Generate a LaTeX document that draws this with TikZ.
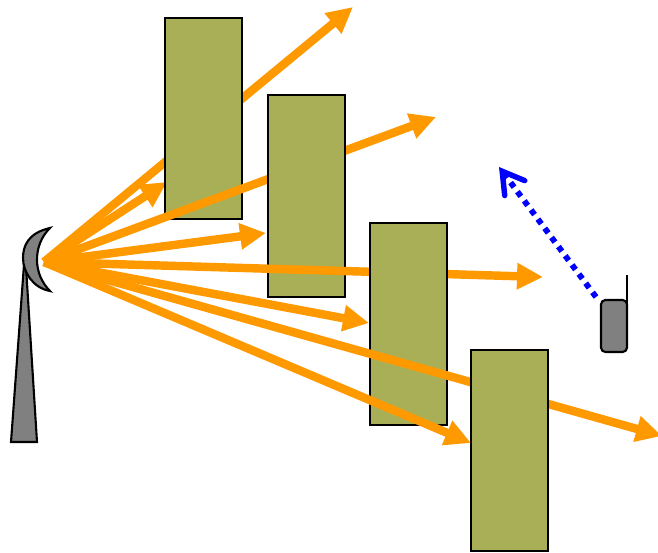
\documentclass[tikz,border=0pt]{standalone}
\usetikzlibrary{arrows.meta,positioning}
\definecolor{bldgolive}{HTML}{A9AF57}
\definecolor{beamorange}{HTML}{FF9900}
\tikzset{
  block/.style = {
    draw, fill=bldgolive, line width=1.2pt, minimum width=1.54cm, minimum height=4.03cm, inner sep=0pt
  },
  beam/.style = {
    -{Triangle[length=.52cm,width=.5cm]},
    line width=4.8pt,
    beamorange
  },
  uplink/.style = {
    -{Straight Barb[length=.42cm,width=.5cm,line cap=round,line width=3.1pt]},
    line width=3.3pt,
    blue,
    dash pattern=on 3.3pt off 3.2pt
  },
  device/.style = {
    draw, fill=gray, line width=1.2pt
  }
}

\begin{document}
\begin{tikzpicture}[x=.02cm,y=-.02cm]
    \useasboundingbox (0,0) rectangle (658,553);

    \coordinate (src)   at (44,262);
    \coordinate (tipa)  at (353,7);
    \coordinate (tipb)  at (167,182);
    \coordinate (tipc)  at (436,117);
    \coordinate (tipd)  at (266,233);
    \coordinate (tipe)  at (543,277);
    \coordinate (tipf)  at (369,323);
    \coordinate (tipg)  at (662,436);
    \coordinate (tiph)  at (471,443);
    \coordinate (upend) at (499,167);

    % tower and dish
    \draw[device] (11,442) -- (25,251) -- (37,442) -- cycle;
    \draw[device] (50,228) .. controls (28,233) and (23,246) .. (23,258)
        .. controls (23,272) and (33,288) .. (50,291)
        .. controls (42,283) and (37,272) .. (37,260)
        .. controls (37,248) and (41,237) .. (50,228) -- cycle;

    % beams and buildings, back to front
    \draw[beam] (src) -- (tipa);
    \draw[beam] (src) -- (tipb);
    \node[block] (bldga) at (203.5,118.5) {};
    \draw[beam] (src) -- (tipc);
    \draw[beam] (src) -- (tipd);
    \node[block] (bldgb) at (306.5,196) {};
    \draw[beam] (src) -- (tipe);
    \draw[beam] (src) -- (tipf);
    \node[block] (bldgc) at (408.5,324) {};
    \draw[beam] (src) -- (tipg);
    \node[block] (bldgd) at (509.5,450.5) {};
    \draw[beam] (src) -- (tiph);

    % handset
    \node[device, rounded corners=2.5pt, minimum width=.52cm, minimum height=1.04cm, inner sep=0pt, outer sep=0pt] (phone) at (614,326) {};
    \coordinate (whip) at (phone.east |- 0,275);
    \draw[line width=1.2pt] (phone.east) -- (whip);
    \draw[uplink] (phone.north west) ++(-5,-3) coordinate (upstart) (upstart) -- (upend);
\end{tikzpicture}
\end{document}
